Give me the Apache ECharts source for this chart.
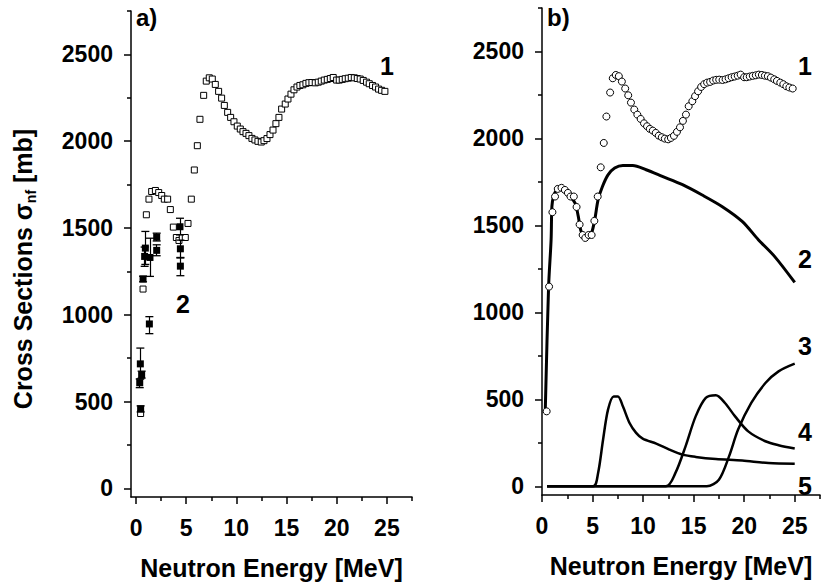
<!DOCTYPE html>
<html>
<head>
<meta charset="utf-8">
<script src="https://cdn.jsdelivr.net/npm/echarts@6/dist/echarts.min.js"></script>
<style>html,body{margin:0;padding:0;background:#fff}#main{width:821px;height:585px}</style>
</head>
<body>
<div id="main"></div>
<script>
// curve 1 - open squares (panel a) / open circles (panel b)
var energy1 = [0.46,0.70,1.03,1.29,1.56,1.93,2.26,2.56,2.82,3.15,3.42,3.72,4.02,4.28,4.61,4.91,5.18,5.51,5.81,6.11,
  6.37,6.74,7.00,7.30,7.60,7.90,8.23,8.53,8.80,9.13,9.43,9.76,10.09,10.39,10.66,10.96,11.25,11.55,11.85,12.15,
  12.48,12.75,13.05,13.35,13.65,13.94,14.24,14.51,14.87,15.14,15.44,15.74,16.04,16.33,16.63,16.93,17.23,17.53,17.86,18.16,
  18.46,18.76,19.06,19.36,19.65,19.99,20.25,20.55,20.85,21.15,21.45,21.75,22.05,22.34,22.64,22.97,23.24,23.57,23.87,24.17,
  24.47,24.80];
var sigma1 = [431,1148,1576,1666,1710,1716,1704,1687,1666,1666,1606,1505,1445,1428,1445,1445,1526,1666,1834,1974,
  2126,2264,2346,2365,2358,2327,2287,2248,2206,2166,2137,2112,2087,2070,2055,2045,2032,2016,2007,1999,
  1995,2003,2015,2038,2064,2101,2137,2185,2214,2243,2271,2296,2312,2321,2325,2333,2337,2338,2336,2340,
  2346,2352,2356,2361,2367,2352,2352,2356,2360,2363,2367,2365,2361,2358,2350,2340,2331,2321,2312,2300,
  2293,2287];

// curve 2 - experimental points with error bars (panel a)
var energy2 = [0.46,0.37,0.56,0.43,1.33,0.70,0.93,0.86,1.39,2.06,2.06,4.38,4.42,4.42];
var sigma2  = [458,608,655,717,947,1206,1384,1336,1330,1447,1371,1507,1380,1280];
var err2Low  = [440,580,635,630,891,1190,1290,1279,1221,1425,1340,1460,1330,1225];
var err2High = [475,630,675,808,989,1222,1480,1390,1441,1470,1403,1556,1430,1327];

// calculated curves (panel b)
var line2E = [0.32,0.65,0.90,0.98,1.14,1.47,1.96,2.61,3.26,3.59,3.82,4.18,4.57,4.90,5.22,5.55,5.98,6.53,7.19,8.00,
  8.98,10.3,11.9,13.9,15.8,17.8,19.8,21.4,23.0,25.0];
var line2S = [428,1144,1418,1609,1667,1705,1715,1676,1629,1552,1475,1433,1433,1456,1533,1648,1724,1791,1830,1845,
  1845,1820,1782,1734,1676,1609,1523,1418,1322,1172];
var line3E = [0.5,16.3,17.5,18.5,19.4,20.7,22.1,23.4,25.0];
var line3S = [0,0,38,172,326,479,594,661,705];
var line4E = [0.5,12.25,13.2,14.2,15.2,16.2,17.2,18.1,19.1,20.4,22.1,23.4,25.0];
var line4S = [0,0,77,230,402,508,523,479,402,316,259,236,217];
var line5E = [0.5,5.06,5.55,6.04,6.53,7.09,7.51,8.0,8.66,9.31,9.96,11.3,12.6,13.9,15.2,17.2,19.8,22.4,25.0];
var line5S = [0,0,77,268,441,517,517,460,364,307,274,245,211,182,169,157,148,134,130];

var xTicks = [0,5,10,15,20,25];
var xMinor = [2.5,7.5,12.5,17.5,22.5,27.5];
var yTicks = [0,500,1000,1500,2000,2500];
var yMinor = [250,750,1250,1750,2250,2750];

var font = 'Arial';

function pairs(xs, ys) {
    return xs.map(function (x, i) { return [x, ys[i]]; });
}
function plain(v) { return String(v); }

function ax(g, min, max, ticks, len, margin, extra) {
    var a = {gridIndex: g, type: 'value', min: min, max: max,
        axisLine: {show: true, onZero: false, lineStyle: {color: '#000', width: 1.5}},
        axisTick: {show: true, customValues: ticks, length: len, lineStyle: {color: '#000', width: 1.5}},
        axisLabel: {customValues: ticks, formatter: plain, margin: margin, fontSize: 23, fontWeight: 'bold', color: '#000'},
        splitLine: {show: false}};
    for (var k in extra) a[k] = extra[k];
    return a;
}
function overlay(g, min, max, ticks, pos) {
    return ax(g, min, max, ticks, 4, 8, {position: pos, axisLine: {show: false, onZero: false}, axisLabel: {show: false}});
}
var xName = {name: 'Neutron Energy [MeV]', nameLocation: 'middle', nameGap: 58,
    nameTextStyle: {color: '#000', fontSize: 25, fontWeight: 'bold', fontFamily: font}};
var yName = {name: '{a|Cross Sections σ}{s|nf}{a| [mb]}', nameLocation: 'middle', nameRotate: 90, nameGap: 93,
    nameTextStyle: {color: '#000', padding: [0, 30, 0, 0], rich: {
        a: {fontSize: 25, fontWeight: 'bold', fontFamily: font, color: '#000', lineHeight: 30},
        s: {fontSize: 14, fontWeight: 'bold', fontFamily: font, color: '#000', lineHeight: 14, verticalAlign: 'bottom'}
    }}};

function curve(xs, ys, w) {
    return {
        type: 'line', xAxisIndex: 1, yAxisIndex: 1, data: pairs(xs, ys),
        showSymbol: false, smooth: 0.3,
        lineStyle: {color: '#000', width: w}, z: 3
    };
}

function label(s, left, top, size) {
    return {text: s, left: left, top: top, padding: 0,
        textStyle: {color: '#000', fontSize: size, fontWeight: 'bold', fontFamily: font}};
}

var myChart = echarts.init(document.getElementById('main'), null, {renderer: 'svg'});
var option = {
    animation: false,
    backgroundColor: '#fff',
    title: [
        label('a)', 136, 5, 24),
        label('b)', 547, 5, 24),
        label('1', 380, 53, 25),
        label('2', 176, 291, 25),
        label('1', 798, 53, 25),
        label('2', 798, 246, 25),
        label('3', 798, 333, 25),
        label('4', 798, 419, 25),
        label('5', 798, 473, 25)
    ],
    grid: [
        {left: 131, top: 11, width: 281, height: 487},
        {left: 542, top: 8, width: 278, height: 487}
    ],
    xAxis: [
        ax(0, -0.5, 27.5, xTicks, 7, 19, xName),
        ax(1, 0, 27.5, xTicks, 7, 19, xName),
        overlay(0, -0.5, 27.5, xMinor, 'bottom'),
        overlay(1, 0, 27.5, xMinor, 'bottom')
    ],
    yAxis: [
        ax(0, -50, 2750, yTicks, 7, 18, yName),
        ax(1, -50, 2750, yTicks, 7, 18, {}),
        overlay(0, -50, 2750, yMinor, 'left'),
        overlay(1, -50, 2750, yMinor, 'left')
    ],
    series: [
        {
            type: 'scatter', xAxisIndex: 0, yAxisIndex: 0, data: pairs(energy1, sigma1),
            symbol: 'rect', symbolSize: 6,
            itemStyle: {color: '#fff', borderColor: '#000', borderWidth: 1, opacity: 1}
        },
        {
            // error bar caps
            type: 'scatter', xAxisIndex: 0, yAxisIndex: 0,
            data: pairs(energy2, err2Low).concat(pairs(energy2, err2High)),
            symbol: 'rect', symbolSize: [8, 1.3],
            itemStyle: {color: '#000', opacity: 1}, z: 3
        },
        {
            type: 'scatter', xAxisIndex: 0, yAxisIndex: 0, data: pairs(energy2, sigma2),
            symbol: 'rect', symbolSize: 7,
            itemStyle: {color: '#000', opacity: 1}, z: 4,
            markLine: {
                silent: true, symbol: ['none', 'none'], label: {show: false},
                lineStyle: {color: '#000', width: 1.2, type: 'solid'},
                emphasis: {disabled: true},
                data: energy2.map(function (x, i) {
                    return [{coord: [x, err2Low[i]]}, {coord: [x, err2High[i]]}];
                })
            }
        },
        curve(line3E, line3S, 2.5),
        curve(line4E, line4S, 2.5),
        curve(line5E, line5S, 2.5),
        curve(line2E, line2S, 3),
        {
            type: 'scatter', xAxisIndex: 1, yAxisIndex: 1, data: pairs(energy1, sigma1),
            symbol: 'circle', symbolSize: 7,
            itemStyle: {color: '#fff', borderColor: '#000', borderWidth: 1, opacity: 1}, z: 5
        }
    ]
};
myChart.setOption(option);
</script>
</body>
</html>
